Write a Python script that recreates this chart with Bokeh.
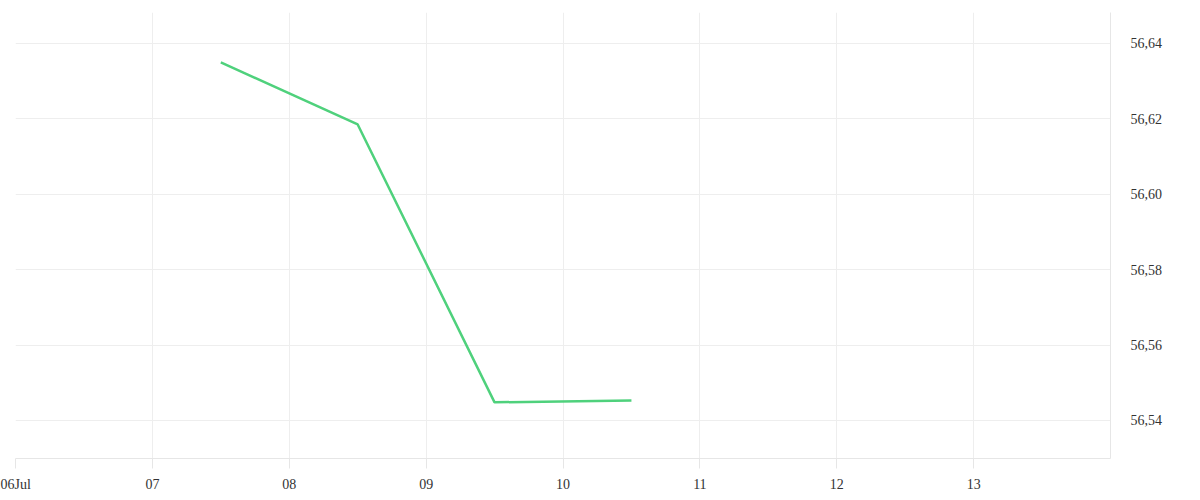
from bokeh.plotting import figure
from bokeh.models import FixedTicker, CustomJSTickFormatter, Range1d
from bokeh.embed import file_html
from bokeh.resources import INLINE
import pandas as pd

# data
dates = ["2023-07-07 12:00", "2023-07-08 12:00", "2023-07-09 12:00", "2023-07-10 12:00"]
values = [56.635, 56.6185, 56.5448, 56.5453]
x_tick_dates = ["2023-07-06", "2023-07-07", "2023-07-08", "2023-07-09", "2023-07-10",
                "2023-07-11", "2023-07-12", "2023-07-13"]
x_tick_labels = ["06Jul", "07", "08", "09", "10", "11", "12", "13"]
y_ticks = [56.54, 56.56, 56.58, 56.60, 56.62, 56.64]

def ms(s):
    return pd.Timestamp(s).value / 1e6

xs = [ms(d) for d in dates]
x_ticks = [ms(d) for d in x_tick_dates]

p = figure(frame_width=1095, frame_height=446, x_axis_type="datetime",
           output_backend="svg", toolbar_location=None,
           x_range=Range1d(ms("2023-07-06"), ms("2023-07-14")),
           y_range=Range1d(56.5299, 56.6482),
           min_border_left=15, min_border_top=12, min_border_right=10, min_border_bottom=5,
           y_axis_location="right")
p.outline_line_color = None
p.background_fill_color = "white"
p.border_fill_color = "white"

p.line(xs, values, line_color="#4fd17c", line_width=2.5)

font = "Liberation Serif"
xa = p.xaxis[0]
xa.ticker = FixedTicker(ticks=x_ticks)
xa.major_label_overrides = {t: l for t, l in zip(x_ticks, x_tick_labels)}
xa.axis_line_color = "#e6e6e6"
xa.major_tick_line_color = "#e6e6e6"
xa.major_tick_out = 10
xa.major_tick_in = 0
xa.minor_tick_line_color = None
xa.major_label_standoff = 8
xa.major_label_text_font = font
xa.major_label_text_font_size = "14px"
xa.major_label_text_color = "#333333"

ya = p.yaxis[0]
ya.ticker = FixedTicker(ticks=y_ticks)
ya.formatter = CustomJSTickFormatter(code="return tick.toFixed(2).replace('.', ',');")
ya.axis_line_color = "#e6e6e6"
ya.major_tick_line_color = None
ya.minor_tick_line_color = None
ya.major_label_standoff = 14
ya.major_label_text_font = font
ya.major_label_text_font_size = "14px"
ya.major_label_text_color = "#333333"

p.xgrid.ticker = FixedTicker(ticks=x_ticks)
p.ygrid.ticker = FixedTicker(ticks=y_ticks)
p.grid.grid_line_color = "#eeeeee"
p.grid.grid_line_width = 1

open("out.html", "w").write(file_html(p, INLINE))
